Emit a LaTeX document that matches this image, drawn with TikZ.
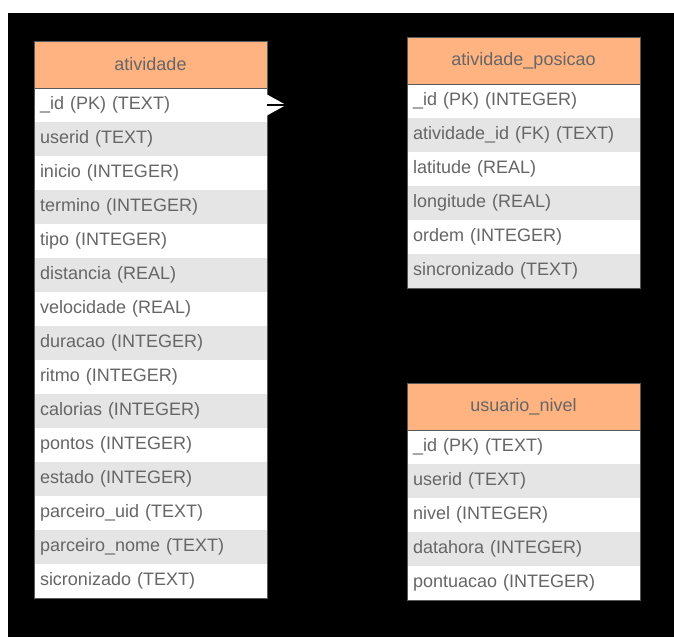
\documentclass[tikz,border=0pt]{standalone}
\usepackage{fontspec}
\setmainfont{Liberation Sans}
\definecolor{hdr}{HTML}{FFB381}
\definecolor{rowgray}{HTML}{E5E5E5}
\definecolor{txt}{HTML}{666666}
\definecolor{edge}{HTML}{5A5A5A}
\tikzset{
  tbl/.style={inner sep=0pt, outer sep=0pt, minimum width=233pt, text=txt,
    font=\fontsize{18}{21}\selectfont},
  hdrbox/.style={tbl, fill=hdr, minimum height=47pt, anchor=north west},
  rowbox/.style={tbl, minimum height=34pt, text width=221pt, inner xsep=6pt,
    align=left, anchor=north west},
  oddrow/.style={rowbox, fill=white},
  evenrow/.style={rowbox, fill=rowgray},
  outline/.style={draw=edge, line width=0.9pt},
}
\begin{document}
\begin{tikzpicture}[x=1pt,y=-1pt]
\useasboundingbox (0,0) rectangle (674,637);
\fill[white] (0,0) rectangle (674,637);
\fill[black] (8,13) rectangle (674,637);

% atividade
\node[hdrbox] (ah) at (34,41) {atividade};
\foreach \t [count=\i] in {\_id (PK) (TEXT), userid (TEXT), inicio (INTEGER),
  termino (INTEGER), tipo (INTEGER), distancia (REAL), velocidade (REAL),
  duracao (INTEGER), ritmo (INTEGER), calorias (INTEGER), pontos (INTEGER),
  estado (INTEGER), parceiro\_uid (TEXT), parceiro\_nome (TEXT), sicronizado (TEXT)} {
  \ifodd\i
    \node[oddrow] (a\i) at (34,{88+34*(\i-1)}) {\t};
  \else
    \node[evenrow] (a\i) at (34,{88+34*(\i-1)}) {\t};
  \fi
}
\draw[outline] (ah.north west) rectangle (a15.south east);
\draw[outline] (ah.south west) -- (ah.south east);

% atividade_posicao
\node[hdrbox] (ph) at (407,37) {atividade\_posicao};
\foreach \t [count=\i] in {\_id (PK) (INTEGER), atividade\_id (FK) (TEXT),
  latitude (REAL), longitude (REAL), ordem (INTEGER), sincronizado (TEXT)} {
  \ifodd\i
    \node[oddrow] (p\i) at (407,{84+34*(\i-1)}) {\t};
  \else
    \node[evenrow] (p\i) at (407,{84+34*(\i-1)}) {\t};
  \fi
}
\draw[outline] (ph.north west) rectangle (p6.south east);
\draw[outline] (ph.south west) -- (ph.south east);

% usuario_nivel
\node[hdrbox] (uh) at (407,383) {usuario\_nivel};
\foreach \t [count=\i] in {\_id (PK) (TEXT), userid (TEXT), nivel (INTEGER),
  datahora (INTEGER), pontuacao (INTEGER)} {
  \ifodd\i
    \node[oddrow] (u\i) at (407,{430+34*(\i-1)}) {\t};
  \else
    \node[evenrow] (u\i) at (407,{430+34*(\i-1)}) {\t};
  \fi
}
\draw[outline] (uh.north west) rectangle (u5.south east);
\draw[outline] (uh.south west) -- (uh.south east);

% connector end at atividade._id
\coordinate (tip) at ([xshift=19pt]a1.east);
\fill[white] ([yshift=10.5pt]a1.east) -- (tip) -- ([yshift=-10.5pt]a1.east) -- cycle;
\draw[black, line width=2pt] (a1.east) -- (tip);
\end{tikzpicture}
\end{document}
